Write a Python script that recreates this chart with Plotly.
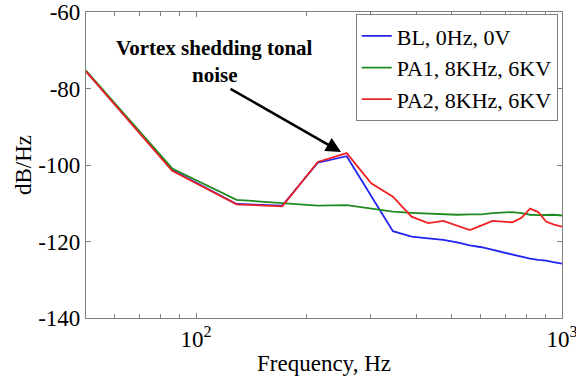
import plotly.graph_objects as go

freq = [50, 86, 129, 172, 215, 258, 301, 345, 388, 431, 474, 517, 560, 603,
        646, 689, 732, 775, 818, 861, 904, 947, 1000]

bl = [-75.5, -101.3, -110.2, -110.6, -99.4, -97.7, None, -117.3, -118.7, -119.2,
      -119.6, -120.2, -121.0, -121.5, -122.2, -122.9, -123.5, -124.0, -124.5,
      -124.8, -125.0, -125.4, -125.8]
pa1 = [-75.3, -100.9, -109.1, -109.9, -110.6, -110.5, -111.5, -112.2, -112.5,
       -112.7, -112.8, -113.0, -112.9, -112.9, -112.6, -112.5, -112.3, -112.6,
       -113.0, -113.1, -113.1, -113.0, -113.2]
pa2 = [-75.5, -101.5, -110.3, -110.8, -99.2, -96.9, -104.8, -108.3, -113.5,
       -115.2, -114.6, -115.8, -117.0, -115.8, -114.6, -114.8, -115.0, -113.8,
       -111.4, -112.3, -114.8, -115.5, -116.1]

names = ["BL, 0Hz, 0V", "PA1, 8KHz, 6KV", "PA2, 8KHz, 6KV"]
colors = ["#2424f0", "#1f8a1f", "#ee2222"]

yticks = [-60, -80, -100, -120, -140]
yticktext = ["-60", "-80", "-100", "-120", "-140"]
xticks = [100, 1000]
xticktext = ["10<sup>2</sup>", "10<sup>3</sup>"]
xminor = [60, 70, 80, 90, 200, 300, 400, 500, 600, 700, 800, 900]

FONT = "Liberation Serif, Times New Roman, serif"

fig = go.Figure()
for vals, name, col in zip([bl, pa1, pa2], names, colors):
    fig.add_trace(go.Scatter(x=freq, y=vals, mode="lines", name=name,
                             connectgaps=True,
                             line=dict(color=col, width=1.8)))

fig.add_annotation(x=2.396, y=-96.6, xref="x", yref="y",
                   ax=-112, ay=-64, text="", showarrow=True,
                   arrowhead=2, arrowsize=1.2, arrowwidth=2.5,
                   arrowcolor="black", standoff=0)
fig.add_annotation(x=0.271, y=0.882, xref="paper", yref="paper",
                   xanchor="center", yanchor="middle",
                   text="<b>Vortex shedding tonal</b>", showarrow=False,
                   font=dict(family=FONT, size=21, color="black"))
fig.add_annotation(x=0.271, y=0.794, xref="paper", yref="paper",
                   xanchor="center", yanchor="middle",
                   text="<b>noise</b>", showarrow=False,
                   font=dict(family=FONT, size=21, color="black"))

axis_common = dict(showline=True, linecolor="#808080", linewidth=1.2,
                   mirror="ticks", ticks="inside", tickcolor="#808080",
                   showgrid=False, zeroline=False, automargin=False,
                   tickfont=dict(family=FONT, size=23, color="black"))

fig.update_xaxes(type="log", range=[1.699, 3.0], tickvals=xticks,
                 ticktext=xticktext, ticklen=5, ticklabeloverflow="allow",
                 minor=dict(tickvals=xminor, ticks="inside", ticklen=4,
                            tickcolor="#808080", showgrid=False),
                 title=dict(text="Frequency, Hz", standoff=4,
                            font=dict(family=FONT, size=23, color="black")),
                 **axis_common)
fig.update_yaxes(range=[-140, -60], tickvals=yticks, ticktext=yticktext,
                 ticklen=5,
                 title=dict(text="dB/Hz", standoff=0,
                            font=dict(family=FONT, size=23, color="black")),
                 **axis_common)

fig.update_layout(
    width=576, height=381,
    margin=dict(l=86, r=14, t=12, b=63),
    paper_bgcolor="white", plot_bgcolor="white",
    font=dict(family=FONT, color="black"),
    legend=dict(x=0.991, y=0.993, xanchor="right", yanchor="top",
                bgcolor="white", bordercolor="#808080", borderwidth=1,
                font=dict(family=FONT, size=22, color="black"),
                itemwidth=30, tracegroupgap=0),
)

fig.write_html("out.html")
